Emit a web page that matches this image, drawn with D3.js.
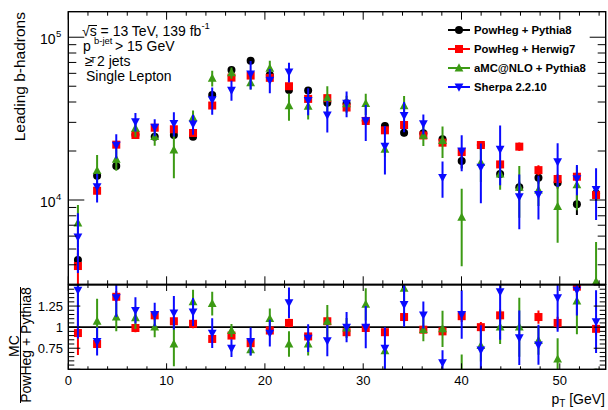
<!DOCTYPE html>
<html><head><meta charset="utf-8">
<script src="https://cdn.jsdelivr.net/npm/d3@7/dist/d3.min.js"></script>
<style>
body{margin:0;background:#fff}
svg{display:block}
text{font-family:"Liberation Sans",Arial,Helvetica,sans-serif;fill:#000}
</style>
</head><body>
<svg id="c" width="608" height="410"></svg>
<script>
// ---------------- data ----------------
const binCenters = [0.98, 2.93, 4.88, 6.83, 8.79, 10.74, 12.69, 14.64, 16.6, 18.55, 20.5, 22.45, 24.4, 26.35,
                    28.31, 30.26, 32.21, 34.16, 36.12, 38.07, 40.02, 41.97, 43.93, 45.88, 47.83, 49.78, 51.74, 53.69];

const powhegPythia = [4280, 14100, 16180, 25200, 24490, 25090, 24490, 44150, 62960, 71780, 58640, 47420, 46990, 39630,
                      39300, 30700, 28510, 25930, 25700, 23600, 17380, 21770, 14450, 11970, 13710, 12770, 9410, 10950];
const powhegHerwig = [3930, 11400, 21880, 25090, 27800, 27200, 25800, 38060, 56480, 58140, 56300, 50000, 41800, 42250,
                      37000, 30600, 26800, 28900, 24930, 22500, 19700, 21770, 16540, 21270, 15260, 13460, 13900, 10730];
const amcPythia    = [7220, 15140, 17800, 27600, 24500, 20270, 32000, 55990, 60440, 52400, 64500, 37900, 37600, 42400,
                      39000, 39100, 20500, 37900, 25000, 23200, 7830, 17000, 14450, 11970, 11500, 9100, 12370, 3150];
const sherpa       = [5930, 12070, 21700, 30270, 28000, 29600, 29300, 41300, 47350, 59580, 54500, 61200, 40900, 33300,
                      39300, 30700, 21400, 33060, 29400, 13790, 20000, 15900, 20500, 10480, 10830, 17190, 13550, 11600];

// relative uncertainties
const errPowhegPythia = [0.10, 0.05, 0.05, 0.04, 0.04, 0.04, 0.04, 0.04, 0.04, 0.04, 0.04, 0.04, 0.04, 0.05,
                         0.05, 0.05, 0.05, 0.05, 0.05, 0.05, 0.10, 0.06, 0.06, 0.08, 0.08, 0.08, 0.14, 0.10];
const errPowhegHerwig = [0.28, 0.06, 0.05, 0.05, 0.05, 0.05, 0.05, 0.05, 0.05, 0.05, 0.05, 0.05, 0.05, 0.05,
                         0.05, 0.05, 0.05, 0.05, 0.05, 0.05, 0.06, 0.06, 0.06, 0.06, 0.07, 0.07, 0.07, 0.07];
const errAmcPythia    = [0.29, 0.25, 0.15, 0.12, 0.12, 0.33, 0.11, 0.11, 0.08, 0.09, 0.11, 0.19, 0.17, 0.18,
                         0.12, 0.15, 0.10, 0.15, 0.14, 0.22, 0.50, 0.24, 0.20, 0.35, 0.20, 0.40, 0.30, 0.75];
const errSherpa       = [0.40, 0.20, 0.17, 0.13, 0.12, 0.17, 0.14, 0.19, 0.14, 0.20, 0.17, 0.14, 0.19, 0.22,
                         0.18, 0.25, 0.33, 0.21, 0.14, 0.25, 0.25, 0.40, 0.40, 0.37, 0.30, 0.30, 0.21, 0.35];

// ratio MC / PowHeg+Pythia8
const ratioHerwig = [0.93, 0.80, 1.36, 0.99, 1.14, 1.07, 1.04, 0.86, 0.90, 0.81, 0.96, 1.05, 0.89, 1.07,
                     0.94, 0.99, 0.94, 1.12, 0.97, 0.95, 1.13, 1.00, 1.14, 1.78, 1.12, 1.05, 1.48, 0.98];
const ratioAmc    = [1.69, 1.07, 1.12, 1.11, 1.00, 0.80, 1.30, 1.28, 0.96, 0.73, 1.10, 0.80, 0.80, 1.07,
                     0.99, 1.27, 0.72, 1.46, 0.97, 0.98, 0.45, 0.78, 1.00, 1.00, 0.84, 0.62, 1.31, 0.29];
const ratioSherpa = [1.44, 0.83, 1.35, 1.20, 1.15, 1.17, 1.18, 0.93, 0.75, 0.83, 0.93, 1.29, 0.87, 0.84,
                     1.00, 1.00, 0.75, 1.27, 1.145, 0.58, 1.15, 0.73, 1.42, 0.875, 0.79, 1.35, 1.44, 1.066];

const legendLabels = ["PowHeg + Pythia8", "PowHeg + Herwig7", "aMC@NLO + Pythia8", "Sherpa 2.2.10"];
const seriesColors = ["#000000", "#ff0000", "#3c9a14", "#0a0aff"];
const seriesShapes = ["circle", "square", "triUp", "triDown"];
const xTickLabels = [0, 10, 20, 30, 40, 50];
const ratioTickLabels = [0.75, 1, 1.25];
const yDecades = [10000, 100000];

// ---------------- layout ----------------
const X0 = 68.3, X1 = 605.7, MT = 11.7, MB = 284.3, RT = 285, RB = 369.3;
const svg = d3.select("#c");
const x = d3.scaleLinear().domain([0, 54.67]).range([X0, X1]);
const y = d3.scaleLog().domain([3035, 143500]).range([MB, MT]);
const yr = d3.scaleLinear().domain([0.5, 1.5]).range([RB, RT]);

const defs = svg.append("defs");
defs.append("clipPath").attr("id", "clipMain").append("rect")
  .attr("x", X0).attr("y", MT).attr("width", X1 - X0).attr("height", MB - MT);
defs.append("clipPath").attr("id", "clipRatio").append("rect")
  .attr("x", X0).attr("y", RT).attr("width", X1 - X0).attr("height", RB - RT);

function drawMarker(g, shape, cx, cy, color) {
  const s = 4;
  if (shape === "circle") {
    g.append("circle").attr("cx", cx).attr("cy", cy).attr("r", s).attr("fill", color);
  } else if (shape === "square") {
    g.append("rect").attr("x", cx - s).attr("y", cy - s).attr("width", 2 * s).attr("height", 2 * s).attr("fill", color);
  } else if (shape === "triUp") {
    g.append("path").attr("d", `M${cx},${cy - 4.8}L${cx + 4.4},${cy + 3.4}L${cx - 4.4},${cy + 3.4}Z`).attr("fill", color);
  } else {
    g.append("path").attr("d", `M${cx},${cy + 4.8}L${cx + 4.4},${cy - 3.4}L${cx - 4.4},${cy - 3.4}Z`).attr("fill", color);
  }
}

const series = [
  {vals: powhegPythia, err: errPowhegPythia, ratio: null},
  {vals: powhegHerwig, err: errPowhegHerwig, ratio: ratioHerwig},
  {vals: amcPythia, err: errAmcPythia, ratio: ratioAmc},
  {vals: sherpa, err: errSherpa, ratio: ratioSherpa}
].map((s, i) => Object.assign(s, {color: seriesColors[i], shape: seriesShapes[i], label: legendLabels[i]}));

// ---------------- main panel ----------------
const gMain = svg.append("g").attr("clip-path", "url(#clipMain)");
series.forEach(s => {
  const g = gMain.append("g");
  s.vals.forEach((v, i) => {
    const lo = Math.max(v * (1 - s.err[i]), 100), hi = v * (1 + s.err[i]);
    g.append("line").attr("x1", x(binCenters[i])).attr("x2", x(binCenters[i]))
      .attr("y1", y(lo)).attr("y2", y(hi)).attr("stroke", s.color).attr("stroke-width", 2);
  });
  s.vals.forEach((v, i) => drawMarker(g, s.shape, x(binCenters[i]), y(v), s.color));
});

// ---------------- ratio panel ----------------
const gRatio = svg.append("g").attr("clip-path", "url(#clipRatio)");
gRatio.append("line").attr("x1", X0).attr("x2", X1).attr("y1", yr(1)).attr("y2", yr(1))
  .attr("stroke", "#000").attr("stroke-width", 1.6);
series.filter(s => s.ratio).forEach(s => {
  const g = gRatio.append("g");
  s.ratio.forEach((r, i) => {
    const e = r * s.err[i];
    g.append("line").attr("x1", x(binCenters[i])).attr("x2", x(binCenters[i]))
      .attr("y1", yr(r - e)).attr("y2", yr(r + e)).attr("stroke", s.color).attr("stroke-width", 2);
  });
  s.ratio.forEach((r, i) => drawMarker(g, s.shape, x(binCenters[i]), yr(r), s.color));
});

// ---------------- frames & ticks ----------------
const axG = svg.append("g").attr("stroke", "#000").attr("fill", "none");
axG.append("rect").attr("x", X0).attr("y", MT).attr("width", X1 - X0).attr("height", MB - MT).attr("stroke-width", 1.4);
axG.append("rect").attr("x", X0).attr("y", RT).attr("width", X1 - X0).attr("height", RB - RT).attr("stroke-width", 1.4);

function tick(x1, y1, x2, y2) {
  axG.append("line").attr("x1", x1).attr("y1", y1).attr("x2", x2).attr("y2", y2).attr("stroke-width", 1);
}
const xMinor = d3.range(0, 55, 2);
xMinor.forEach(v => {
  const major = v % 10 === 0;
  const px = x(v);
  tick(px, MB, px, MB - (major ? 8 : 4));
  tick(px, MT, px, MT + (major ? 8 : 4));
  tick(px, RB, px, RB - (major ? 6 : 3));
  tick(px, RT, px, RT + (major ? 6 : 3));
});
y.ticks().forEach(v => {
  const major = yDecades.includes(v);
  const py = y(v);
  if (py < MT - 0.5 || py > MB + 0.5) return;
  tick(X0, py, X0 + (major ? 16 : 8), py);
  tick(X1, py, X1 - (major ? 16 : 8), py);
});
d3.range(0.5, 1.5001, 0.05).forEach(v => {
  const major = Math.abs((v * 4) - Math.round(v * 4)) < 1e-6;
  const py = yr(v);
  tick(X0, py, X0 + (major ? 12 : 6), py);
  tick(X1, py, X1 - (major ? 12 : 6), py);
});

// ---------------- tick labels ----------------
const txt = svg.append("g");
xTickLabels.forEach(v => {
  txt.append("text").attr("x", x(v)).attr("y", 385).attr("text-anchor", "middle")
    .attr("font-size", 13).text(v);
});
ratioTickLabels.forEach(v => {
  txt.append("text").attr("x", 63).attr("y", yr(v) + 4.5).attr("text-anchor", "end")
    .attr("font-size", 13).text(v);
});
yDecades.forEach(v => {
  const py = y(v);
  txt.append("text").attr("x", 55.5).attr("y", py + 7).attr("text-anchor", "end").attr("font-size", 14).text("10");
  txt.append("text").attr("x", 56).attr("y", py - 0.5).attr("font-size", 9.5).text(Math.round(Math.log10(v)));
});

// ---------------- axis titles ----------------
txt.append("text").attr("transform", "translate(25,12) rotate(-90)").attr("text-anchor", "end")
  .attr("font-size", 15.5).text("Leading b-hadrons");
txt.append("text").attr("transform", "translate(18.5,346) rotate(-90)").attr("text-anchor", "middle")
  .attr("font-size", 14).text("MC");
svg.append("line").attr("x1", 20.5).attr("x2", 20.5).attr("y1", 287).attr("y2", 403).attr("stroke", "#000").attr("stroke-width", 1);
txt.append("text").attr("transform", "translate(31,345) rotate(-90)").attr("text-anchor", "middle")
  .attr("font-size", 14).text("PowHeg + Pythia8");

const xt = txt.append("text").attr("x", 605).attr("y", 404).attr("text-anchor", "end").attr("font-size", 14);
xt.append("tspan").text("p");
xt.append("tspan").attr("font-size", 10).attr("dy", 3).text("T");
xt.append("tspan").attr("dy", -3).text(" [GeV]");

// ---------------- labels top-left ----------------
const l1 = txt.append("text").attr("x", 82).attr("y", 36).attr("font-size", 14);
l1.append("tspan").text("√s = 13 TeV, 139 fb");
l1.append("tspan").attr("font-size", 9.5).attr("dy", -7).text("-1");
svg.append("line").attr("x1", 88.5).attr("x2", 97).attr("y1", 25.5).attr("y2", 25.5).attr("stroke", "#000").attr("stroke-width", 1);

txt.append("text").attr("x", 83).attr("y", 51).attr("font-size", 14).text("p");
txt.append("text").attr("x", 94).attr("y", 43.5).attr("font-size", 9.5).text("b-jet");
txt.append("text").attr("x", 90).attr("y", 62.5).attr("font-size", 9.5).text("T");
txt.append("text").attr("x", 115).attr("y", 51).attr("font-size", 14).text("> 15 GeV");
txt.append("text").attr("x", 85).attr("y", 65.5).attr("font-size", 14).text("≥");
txt.append("text").attr("x", 97).attr("y", 65.5).attr("font-size", 14).text("2 jets");
txt.append("text").attr("x", 86).attr("y", 80.5).attr("font-size", 14).text("Single Lepton");

// ---------------- legend ----------------
const legY = [30, 49, 68, 87];
series.forEach((s, i) => {
  const g = svg.append("g");
  g.append("line").attr("x1", 448).attr("x2", 470).attr("y1", legY[i]).attr("y2", legY[i])
    .attr("stroke", s.color).attr("stroke-width", 2);
  drawMarker(g, s.shape, 459, legY[i], s.color);
  g.append("text").attr("x", 474).attr("y", legY[i] + 4).attr("font-size", 11.3).attr("font-weight", "bold").text(s.label);
});
</script>
</body></html>
